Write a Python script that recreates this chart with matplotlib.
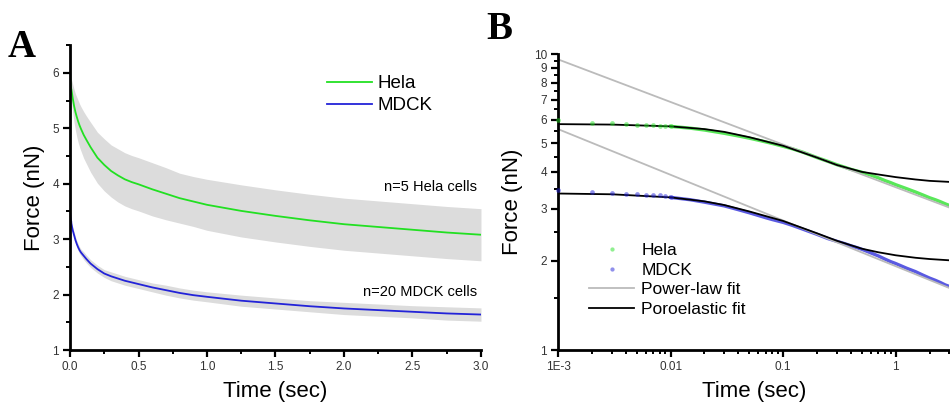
import numpy as np
import matplotlib.pyplot as plt
from matplotlib.ticker import FixedLocator, MultipleLocator, FixedFormatter

plt.rcParams['font.family'] = ['Liberation Sans', 'DejaVu Sans']

# --- stress-relaxation data (mean force and spread, nN) ---
t = [0.001, 0.002, 0.003, 0.004, 0.005, 0.006, 0.007, 0.008, 0.009, 0.01,
     0.015, 0.02, 0.03, 0.04, 0.05, 0.06, 0.07, 0.08, 0.1, 0.12, 0.15, 0.2,
     0.25, 0.3, 0.35, 0.4, 0.45, 0.5, 0.6, 0.7, 0.8, 0.9, 1.0, 1.25, 1.5,
     1.75, 2.0, 2.25, 2.5, 2.75, 3.0]
hela = [6.00, 5.87, 5.83, 5.81, 5.78, 5.76, 5.74, 5.72, 5.71, 5.70,
        5.62, 5.54, 5.40, 5.29, 5.20, 5.12, 5.05, 4.99, 4.88, 4.79, 4.66, 4.47,
        4.34, 4.23, 4.15, 4.08, 4.03, 3.99, 3.90, 3.82, 3.74, 3.68, 3.62, 3.51, 3.42,
        3.34, 3.27, 3.22, 3.17, 3.12, 3.08]
hela_err = [0.00, 0.05, 0.08, 0.10, 0.12, 0.14, 0.15, 0.16, 0.17, 0.18,
            0.22, 0.25, 0.30, 0.33, 0.36, 0.38, 0.39, 0.40, 0.42, 0.43, 0.45, 0.46,
            0.47, 0.47, 0.48, 0.48, 0.48, 0.48, 0.48, 0.47, 0.45, 0.45, 0.46, 0.47, 0.47,
            0.47, 0.47, 0.47, 0.47, 0.47, 0.47]
mdck = [3.47, 3.43, 3.40, 3.38, 3.37, 3.35, 3.34, 3.33, 3.32, 3.28,
        3.22, 3.16, 3.07, 2.98, 2.91, 2.85, 2.80, 2.76, 2.70, 2.64, 2.56, 2.46,
        2.38, 2.33, 2.29, 2.25, 2.22, 2.19, 2.13, 2.08, 2.03, 1.99, 1.96, 1.89, 1.84,
        1.79, 1.75, 1.72, 1.69, 1.66, 1.64]
mdck_err = [0.00, 0.02, 0.03, 0.03, 0.04, 0.04, 0.04, 0.04, 0.05, 0.05,
            0.05, 0.05, 0.06, 0.06, 0.06, 0.06, 0.06, 0.06, 0.07, 0.07, 0.07, 0.07,
            0.07, 0.08, 0.08, 0.08, 0.08, 0.08, 0.08, 0.09, 0.09, 0.09, 0.09, 0.10, 0.10,
            0.10, 0.11, 0.11, 0.11, 0.12, 0.12]

# --- fits for the log-log panel ---
t_pow = [0.001, 3.0]
hela_pow = [9.6, 3.03]
mdck_pow = [5.58, 1.62]

t_poro = [0.001, 0.003, 0.01, 0.02, 0.03, 0.05, 0.1, 0.2, 0.3, 0.5, 0.7,
          1.0, 1.5, 2.0, 3.0]
hela_poro = [5.80, 5.78, 5.70, 5.58, 5.46, 5.24, 4.90, 4.47, 4.22, 4.00, 3.92,
             3.84, 3.77, 3.73, 3.70]
mdck_poro = [3.38, 3.36, 3.28, 3.18, 3.09, 2.94, 2.73, 2.48, 2.34, 2.20, 2.14,
             2.09, 2.05, 2.03, 2.01]

GREEN = '#22e022'
BLUE = '#2323d8'
BAND = '#dcdcdc'

fig = plt.figure(figsize=(9.5, 4.07), dpi=100)
axA = fig.add_axes([0.0737, 0.140, 0.4326, 0.749])
axB = fig.add_axes([0.5874, 0.140, 0.412, 0.727])


def style_axes(ax):
    for side in ('top', 'right'):
        ax.spines[side].set_visible(False)
    for side in ('left', 'bottom'):
        ax.spines[side].set_linewidth(2.0)
    ax.tick_params(which='major', direction='out', length=5, width=1.6,
                   labelsize=8.5, labelcolor='#333333', pad=3)
    ax.tick_params(which='minor', direction='out', length=3, width=1.4)


# ---------------- panel A: linear axes ----------------
ta = np.array(t)
for y, e, c, lab in ((hela, hela_err, GREEN, 'Hela'), (mdck, mdck_err, BLUE, 'MDCK')):
    y = np.array(y)
    e = np.array(e)
    axA.fill_between(ta, y - e, y + e, color=BAND, lw=0)
    axA.plot(ta, y, color=c, lw=1.3, label=lab)

axA.set_xlim(0, 3.0)
axA.set_ylim(1, 6.5)
axA.xaxis.set_major_locator(MultipleLocator(0.5))
axA.xaxis.set_minor_locator(MultipleLocator(0.25))
axA.xaxis.set_major_formatter(plt.FormatStrFormatter('%.1f'))
axA.yaxis.set_major_locator(FixedLocator([1, 2, 3, 4, 5, 6]))
axA.yaxis.set_minor_locator(FixedLocator([1.5, 2.5, 3.5, 4.5, 5.5, 6.5]))
style_axes(axA)
axA.set_xlabel('Time (sec)', fontsize=16, labelpad=6)
axA.set_ylabel('Force (nN)', fontsize=16, labelpad=5)
axA.legend(loc='upper left', bbox_to_anchor=(0.585, 0.957), frameon=False,
           fontsize=13.5, handlelength=2.4, handletextpad=0.3, labelspacing=0.25)
axA.text(2.97, 3.95, 'n=5 Hela cells', ha='right', va='center', fontsize=10.5)
axA.text(2.97, 2.05, 'n=20 MDCK cells', ha='right', va='center', fontsize=10.5)

# ---------------- panel B: log-log ----------------
axB.set_xscale('log')
axB.set_yscale('log')
tb = np.array(t)
early = tb <= 0.01
dense = tb >= 0.01
for y, c, lab in ((hela, GREEN, 'Hela'), (mdck, BLUE, 'MDCK')):
    y = np.array(y)
    axB.plot(tb[dense], y[dense], color=c, lw=2.4, alpha=0.75)
    axB.plot(tb[early], y[early], ls='none', marker='o', ms=3.4, mec='none',
             color=c, alpha=0.5, label=lab, clip_on=False, zorder=4)

axB.plot(t_pow, hela_pow, color='#bbbbbb', lw=1.3, label='Power-law fit')
axB.plot(t_pow, mdck_pow, color='#bbbbbb', lw=1.3)
axB.plot(t_poro, hela_poro, color='black', lw=1.3, label='Poroelastic fit')
axB.plot(t_poro, mdck_poro, color='black', lw=1.3)

axB.set_xlim(1e-3, 3.0)
axB.set_ylim(1, 10)
axB.xaxis.set_major_locator(FixedLocator([1e-3, 1e-2, 1e-1, 1]))
axB.xaxis.set_major_formatter(FixedFormatter(['1E-3', '0.01', '0.1', '1']))
axB.xaxis.set_minor_locator(FixedLocator(
    [m * 10.0 ** d for d in (-3, -2, -1, 0) for m in range(2, 10) if m * 10.0 ** d <= 3]))
axB.yaxis.set_major_locator(FixedLocator(list(range(1, 11))))
axB.yaxis.set_major_formatter(FixedFormatter([str(i) for i in range(1, 11)]))
axB.yaxis.set_minor_locator(FixedLocator([i + 0.5 for i in range(1, 10)]))
axB.yaxis.set_minor_formatter(plt.NullFormatter())
style_axes(axB)
axB.set_xlabel('Time (sec)', fontsize=16, labelpad=6)
axB.set_ylabel('Force (nN)', fontsize=16, labelpad=8)
axB.legend(loc='lower left', bbox_to_anchor=(0.04, 0.06), frameon=False,
           fontsize=12.5, handlelength=2.6, handletextpad=0.4, labelspacing=0.25,
           markerscale=0.9)

# panel letters
fig.text(0.008, 0.86, 'A', fontsize=28, fontweight='bold', family='Liberation Serif')
fig.text(0.512, 0.905, 'B', fontsize=28, fontweight='bold', family='Liberation Serif')

fig.savefig('out.png', dpi=100)
